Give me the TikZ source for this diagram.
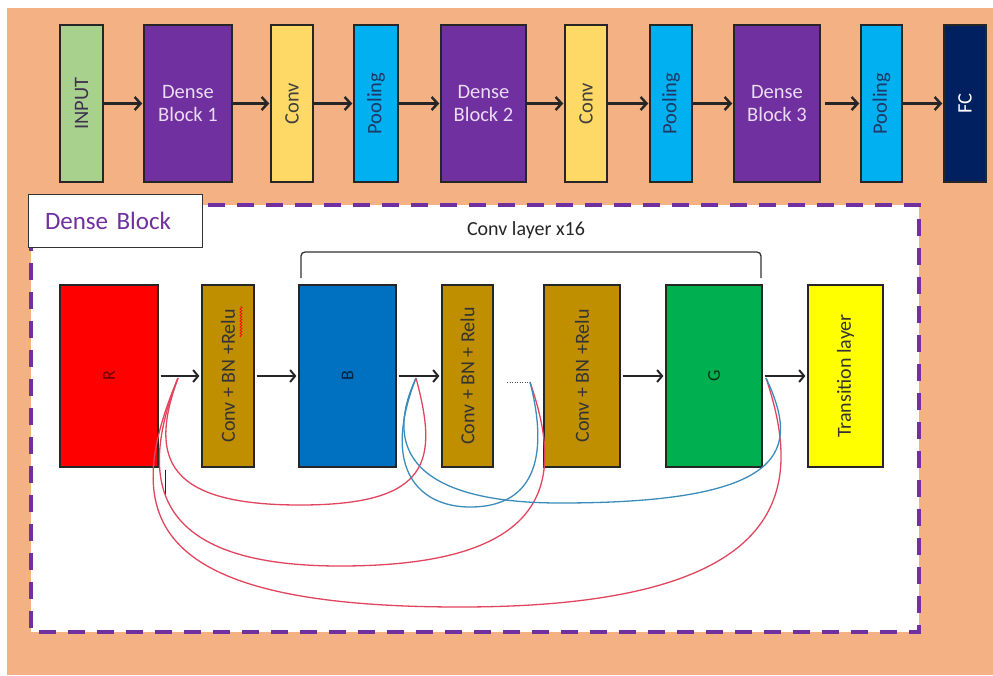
\documentclass[tikz,border=0pt]{standalone}
\usepackage{fontspec}
\usepackage{graphicx}
\setmainfont{Carlito}
\usetikzlibrary{arrows.meta,decorations.pathmorphing}
\definecolor{peach}{HTML}{F4B183}
\definecolor{inputgreen}{HTML}{A9D18E}
\definecolor{densepurple}{HTML}{7030A0}
\definecolor{convyellow}{HTML}{FFD966}
\definecolor{poolblue}{HTML}{00B0F0}
\definecolor{fcnavy}{HTML}{002060}
\definecolor{layergold}{HTML}{BF8F00}
\definecolor{bblue}{HTML}{0070C0}
\definecolor{ggreen}{HTML}{00B050}
\definecolor{transyellow}{HTML}{FFFF00}
\definecolor{inputtext}{HTML}{3F3151}
\definecolor{densetext}{HTML}{EADCF2}
\definecolor{pooltext}{HTML}{1F3864}
\definecolor{linkred}{HTML}{E2465E}
\definecolor{linkblue}{HTML}{3A8DBA}

\begin{document}
\begin{tikzpicture}[x=1pt, y=-1pt,
  topbox/.style={draw=black!85, line width=1.5pt, minimum height=157pt, inner sep=0pt, align=center, font=\fontsize{20.5}{23}\selectfont},
  layerbox/.style={draw=black!85, line width=1.2pt, minimum height=182pt, inner sep=0pt, text=black!80, font=\fontsize{20}{23}\selectfont},
  letterbox/.style={layerbox, font=\fontsize{18}{20}\selectfont},
  flow/.style={-{Straight Barb[length=6pt,width=13pt]}, line width=2.4pt, black!85, shorten >=1pt},
  innerflow/.style={-{Straight Barb[length=5pt,width=12pt]}, line width=2pt, black!85, shorten >=2pt, shorten <=2pt},
  redlink/.style={linkred, line width=1.3pt},
  bluelink/.style={linkblue, line width=1.3pt}
]
  \useasboundingbox (0,0) rectangle (993,675);
  \fill[white] (0,0) rectangle (993,675);
  \fill[peach] (7,8) rectangle (993,675);

  % top row
  \node[topbox, fill=inputgreen, minimum width=43pt, text=inputtext] (inp) at (81.5,103.5) {\rotatebox{90}{INPUT}};
  \node[topbox, fill=densepurple, minimum width=88pt, text=densetext] (db1) at (188,103.5) {Dense\\Block 1};
  \node[topbox, fill=convyellow, minimum width=42pt, text=black!75] (cv1) at (292,103.5) {\rotatebox{90}{Conv}};
  \node[topbox, fill=poolblue, minimum width=44pt, text=pooltext] (pl1) at (376,103.5) {\rotatebox{90}{Pooling}};
  \node[topbox, fill=densepurple, minimum width=85pt, text=densetext] (db2) at (483.5,103.5) {Dense\\Block 2};
  \node[topbox, fill=convyellow, minimum width=42pt, text=black!75] (cv2) at (586,103.5) {\rotatebox{90}{Conv}};
  \node[topbox, fill=poolblue, minimum width=42pt, text=pooltext] (pl2) at (671,103.5) {\rotatebox{90}{Pooling}};
  \node[topbox, fill=densepurple, minimum width=86pt, text=densetext] (db3) at (777,103.5) {Dense\\Block 3};
  \node[topbox, fill=poolblue, minimum width=41pt, text=pooltext] (pl3) at (881.5,103.5) {\rotatebox{90}{Pooling}};
  \node[topbox, fill=fcnavy, minimum width=42pt, text=white] (fc) at (965,103.5) {\rotatebox{90}{FC}};

  \draw[flow] (inp.east) -- (db1.west);
  \draw[flow] (db1.east) -- (cv1.west);
  \draw[flow] (cv1.east) -- (pl1.west);
  \draw[flow] (pl1.east) -- (db2.west);
  \draw[flow] (db2.east) -- (cv2.west);
  \draw[flow] (cv2.east) -- (pl2.west);
  \draw[flow] (pl2.east) -- (db3.west);
  \draw[flow, shorten <=4pt] (db3.east) -- (pl3.west);
  \draw[flow] (pl3.east) -- (fc.west);

  % dense block frame
  \draw[densepurple, line width=3.8pt, dash pattern=on 17pt off 12pt, fill=white] (31,205) rectangle (919,632);
  \node[draw=black!80, line width=1pt, fill=white, minimum height=53pt, inner xsep=17pt, text width=140pt, align=left,
        text=densepurple, font=\fontsize{25}{28}\selectfont] (title) at (115,220.5) {Dense Block};

  % layers
  \node[letterbox, fill=red, minimum width=98pt, text=red!40!black] (R) at (109,376) {\rotatebox{90}{R}};
  \node[layerbox, fill=layergold, minimum width=52pt] (c1) at (228,376) {\rotatebox{90}{Conv + BN +Relu}};
  \node[letterbox, fill=bblue, minimum width=97pt, text=bblue!30!black] (B) at (347.5,376) {\rotatebox{90}{B}};
  \node[layerbox, fill=layergold, minimum width=51pt] (c2) at (467.5,376) {\rotatebox{90}{Conv + BN + Relu}};
  \node[layerbox, fill=layergold, minimum width=76pt] (c3) at (582,376) {\rotatebox{90}{Conv + BN +Relu}};
  \node[letterbox, fill=ggreen, minimum width=96pt, text=ggreen!30!black] (G) at (714,376) {\rotatebox{90}{G}};
  \node[layerbox, fill=transyellow, minimum width=75pt] (T) at (845.5,376) {\rotatebox{90}{Transition layer}};

  \draw[red, line width=0.7pt, decorate, decoration={snake, amplitude=1pt, segment length=3pt}] (241,337) -- (241,306);

  \draw[innerflow] (R.east) -- (c1.west);
  \draw[innerflow] (c1.east) -- (B.west);
  \draw[innerflow] (B.east) -- (c2.west);
  \draw[innerflow] (c3.east) -- (G.west);
  \draw[innerflow] (G.east) -- (T.west);

  \coordinate (dotA) at (507,382);
  \coordinate (dotB) at (530,382);
  \draw[black!70, line width=0.9pt, dash pattern=on 1pt off 1.5pt] (dotA) -- (dotB);

  % conv layer bracket
  \draw[black!80, line width=1.3pt, rounded corners=4pt] (301,278) -- (301,252) -- (761,252) -- (761,278);
  \node[text=black!85, font=\fontsize{20}{23}\selectfont] (reps) at (526,230) {Conv layer x16};

  % dense connections
  \coordinate (tapR) at (178,378);
  \coordinate (tapB) at (416,378);
  \coordinate (tapG) at (766,378);
  \coordinate (stub1) at (165,470);
  \coordinate (stub2) at (165,497);
  \draw[black!85, line width=1pt] (stub1) -- (stub2);

  \draw[redlink] (tapR) .. controls (148,460) and (168,505) .. (300,505) .. controls (432,505) and (438,460) .. (tapB);
  \draw[redlink] (tapR) .. controls (138,480) and (150,566) .. (340,566) .. controls (565,566) and (560,470) .. (dotB);
  \draw[redlink] (tapR) .. controls (118,520) and (150,607) .. (460,607) .. controls (805,607) and (800,480) .. (tapG);
  \draw[bluelink] (tapB) .. controls (380,470) and (420,507) .. (470,507) .. controls (545,507) and (545,440) .. (dotB);
  \draw[bluelink] (tapB) .. controls (378,460) and (430,503) .. (560,503) .. controls (790,503) and (800,450) .. (tapG);
\end{tikzpicture}
\end{document}
